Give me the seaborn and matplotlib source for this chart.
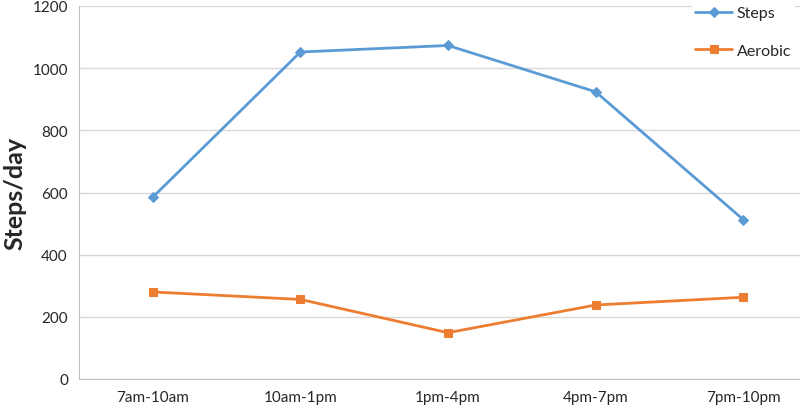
import numpy as np
import pandas as pd
import matplotlib.pyplot as plt
import seaborn as sns

periods = ["7am-10am", "10am-1pm", "1pm-4pm", "4pm-7pm", "7pm-10pm"]
steps = [585, 1052, 1073, 924, 513]
aerobic = [280, 256, 149, 238, 263]

sns.set_style("white")
plt.rcParams["font.family"] = ["Lato", "DejaVu Sans"]

df = pd.DataFrame({
    "period": periods * 2,
    "value": steps + aerobic,
    "series": ["Steps"] * len(periods) + ["Aerobic"] * len(periods),
})
df["x"] = list(range(len(periods))) * 2

fig = plt.figure(figsize=(8, 4.14), dpi=100)
ax = fig.add_axes([79 / 800, 34 / 414, 738 / 800, 373 / 414])

palette = {"Steps": "#5B9BD5", "Aerobic": "#ED7D31"}
markers = {"Steps": "D", "Aerobic": "s"}
for name in ["Steps", "Aerobic"]:
    sub = df[df["series"] == name]
    sns.lineplot(data=sub, x="x", y="value", ax=ax, color=palette[name],
                 marker=markers[name], markersize=5 if name == "Steps" else 6,
                 markeredgecolor=palette[name], linewidth=2, label=name)

ax.set_xlim(-0.5, len(periods) - 0.5)
ax.set_ylim(0, 1200)
ax.set_yticks(range(0, 1201, 200))
ax.set_xticks(range(len(periods)))
ax.set_xticklabels(periods)
ax.yaxis.grid(True, color="#d9d9d9", linewidth=1)
ax.set_axisbelow(True)
for s in ["top", "right"]:
    ax.spines[s].set_visible(False)
ax.spines["left"].set_color("#bfbfbf")
ax.spines["bottom"].set_color("#bfbfbf")
ax.tick_params(axis="both", length=0, labelsize=11, colors="#262626", pad=8)
ax.set_xlabel("")
ax.set_ylabel("Steps/day", fontsize=18, fontweight="bold", labelpad=4)

leg = ax.legend(loc="upper left", bbox_to_anchor=(605 / 738, 1.03), frameon=True,
                fancybox=False, edgecolor="white", facecolor="white", framealpha=1,
                fontsize=11.5, labelspacing=1.45, handlelength=2.3, handletextpad=0.3,
                borderpad=0.2)

fig.savefig("out.png", dpi=100)
